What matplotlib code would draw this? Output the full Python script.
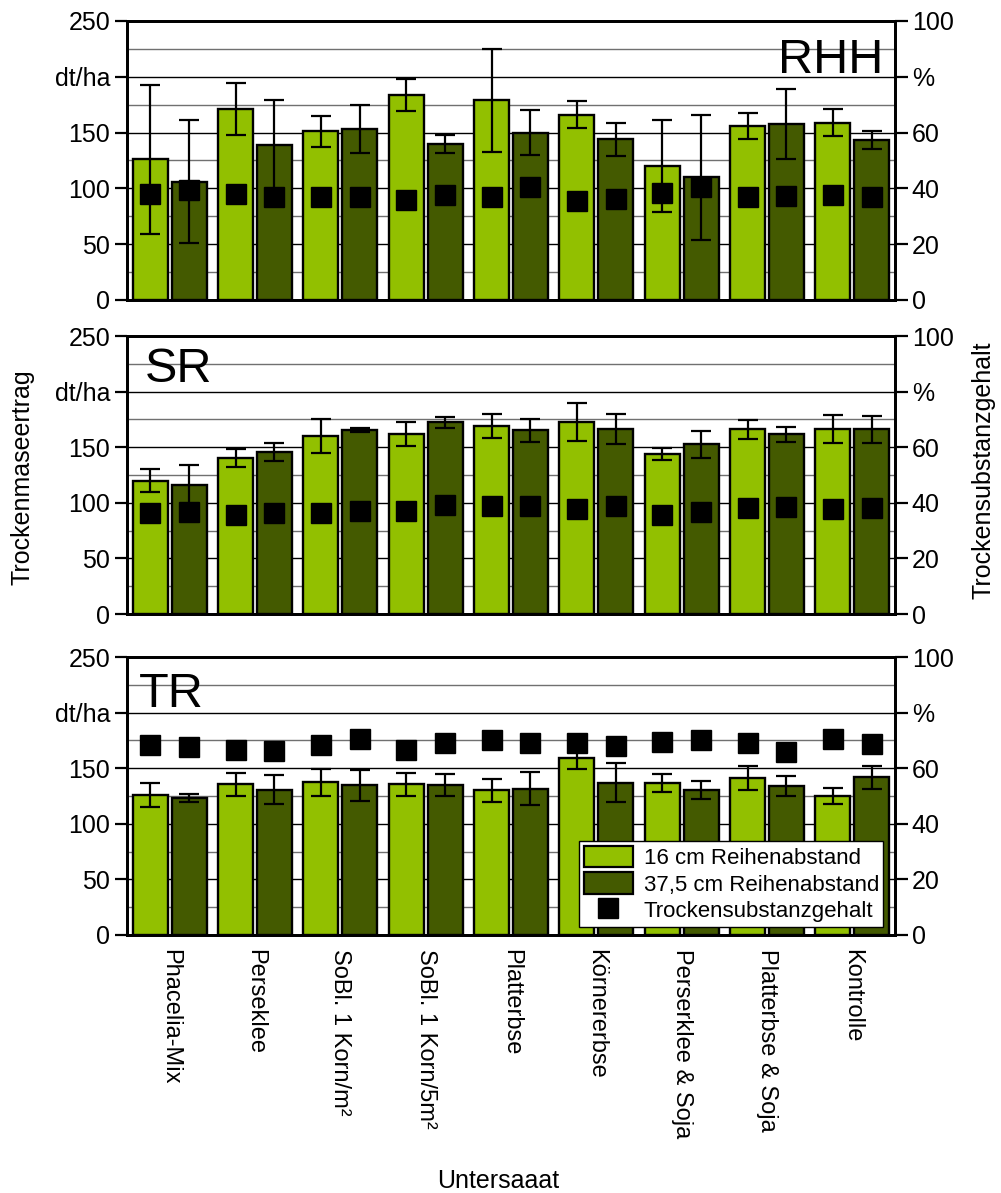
import matplotlib

matplotlib.use("Agg")

import matplotlib.pyplot as plt
import numpy as np
from matplotlib.patches import Patch
from matplotlib.lines import Line2D

plt.rcParams["font.family"] = ["Liberation Sans", "DejaVu Sans"]

categories = [
    "Phacelia-Mix",
    "Perseklee",
    "SoBl. 1 Korn/m²",
    "SoBl. 1 Korn/5m²",
    "Platterbse",
    "Körnererbse",
    "Perserklee & Soja",
    "Platterbse & Soja",
    "Kontrolle",
]

# RHH
rhh_16 = [126, 171, 151, 184, 179, 166, 120, 156, 159]
rhh_16_err = [67, 23.5, 13.5, 14.3, 46, 12, 41, 11.5, 12]
rhh_37 = [106, 139, 153, 140, 150, 144, 110, 158, 143]
rhh_37_err = [55, 40.5, 21.5, 8, 20.5, 15, 56, 31.5, 8]
rhh_ts_16 = [38.1, 37.9, 36.8, 35.8, 36.8, 35.6, 38.5, 36.8, 37.6]
rhh_ts_37 = [39.3, 36.8, 36.8, 37.6, 40.5, 36.2, 40.4, 37.4, 37.0]

# SR
sr_16 = [120, 140, 160, 162, 169, 173, 144, 166, 166.5]
sr_16_err = [10, 8, 15, 11, 11, 17, 5.7, 8.7, 12.4]
sr_37 = [115.6, 145.6, 165.3, 172.5, 165.3, 166.2, 152.7, 161.7, 166]
sr_37_err = [18, 8, 2, 5, 10.5, 13.5, 12, 6.7, 12]
sr_ts_16 = [36.4, 35.5, 36.2, 37.0, 38.9, 37.7, 35.5, 38.0, 37.7]
sr_ts_37 = [36.8, 36.5, 37.1, 39.2, 38.8, 38.8, 36.7, 38.6, 38.0]

# TR
tr_16 = [125.8, 135.4, 137.2, 135.4, 130, 159.3, 136.8, 141.1, 124.9]
tr_16_err = [11, 10.5, 11.9, 10.3, 10, 10, 8, 10.5, 7.2]
tr_37 = [123.4, 130.6, 134.8, 134.8, 131.5, 136.8, 130.3, 133.9, 141.7]
tr_37_err = [3.6, 13, 14, 10, 14.7, 17.5, 8, 9, 10.5]
tr_ts_16 = [68.2, 66.7, 68.2, 66.7, 70.2, 69.1, 69.4, 69.0, 70.6]
tr_ts_37 = [67.5, 66.1, 70.4, 69.0, 68.9, 67.9, 70.3, 66.0, 68.6]

left_ticks = [0, 50, 100, 150, 200, 250]
left_labels = ["0", "50", "100", "150", "dt/ha", "250"]
right_ticks = [0, 20, 40, 60, 80, 100]
right_labels = ["0", "20", "40", "60", "%", "100"]

LIGHT = "#92c000"
DARK = "#445a00"
FS = 18


def draw_panel(ax, v16, e16, v37, e37, ts16, ts37, name, name_pos, show_x):
    x = np.arange(len(categories))
    off = 0.228
    w = 0.41
    ax.set_axisbelow(True)
    ax.bar(x - off, v16, w, color=LIGHT, edgecolor="black", linewidth=1.7, zorder=2)
    ax.bar(x + off, v37, w, color=DARK, edgecolor="black", linewidth=1.7, zorder=2)
    ax.errorbar(x - off, v16, yerr=e16, fmt="none", ecolor="black",
                elinewidth=1.6, capsize=7, capthick=1.6, zorder=3)
    ax.errorbar(x + off, v37, yerr=e37, fmt="none", ecolor="black",
                elinewidth=1.6, capsize=7, capthick=1.6, zorder=3)

    ax.set_xlim(-0.5, len(categories) - 0.5)
    ax.set_ylim(0, 250)
    ax.set_yticks(left_ticks)
    ax.set_yticklabels(left_labels, fontsize=FS)
    ax.set_yticks(np.arange(25, 250, 50), minor=True)
    ax.tick_params(axis="y", which="major", direction="out", length=9, width=1.6, pad=3)
    ax.tick_params(axis="y", which="minor", length=0)
    ax.grid(axis="y", which="major", color="black", linewidth=1.0)
    ax.grid(axis="y", which="minor", color="#707070", linewidth=1.0)
    ax.set_xticks(x)
    if show_x:
        ax.set_xticklabels(categories, rotation=270, fontsize=17, va="top", ha="center")
    else:
        ax.set_xticklabels([])
    ax.tick_params(axis="x", length=0, pad=10)
    for s in ax.spines.values():
        s.set_linewidth(2.0)

    ax2 = ax.twinx()
    ax2.plot(x - off, ts16, "s", color="black", markersize=15, zorder=4)
    ax2.plot(x + off, ts37, "s", color="black", markersize=15, zorder=4)
    ax2.set_ylim(0, 100)
    ax2.set_yticks(right_ticks)
    ax2.set_yticklabels(right_labels, fontsize=FS)
    ax2.tick_params(axis="y", direction="out", length=9, width=1.6, pad=3)
    for s in ax2.spines.values():
        s.set_linewidth(2.0)

    ax.text(name_pos[0], name_pos[1], name, transform=ax.transAxes,
            fontsize=35, ha=name_pos[2], va="top", zorder=5)
    return ax2


fig = plt.figure(figsize=(10.01, 11.93), dpi=100)
left = 127 / 1001
width = 768 / 1001
ax1 = fig.add_axes([left, 1 - 300 / 1193, width, 279 / 1193])
ax2 = fig.add_axes([left, 1 - 614 / 1193, width, 278 / 1193])
ax3 = fig.add_axes([left, 1 - 935 / 1193, width, 278 / 1193])

draw_panel(ax1, rhh_16, rhh_16_err, rhh_37, rhh_37_err, rhh_ts_16, rhh_ts_37,
           "RHH", (0.985, 0.94, "right"), False)
draw_panel(ax2, sr_16, sr_16_err, sr_37, sr_37_err, sr_ts_16, sr_ts_37,
           "SR", (0.023, 0.96, "left"), False)
tw3 = draw_panel(ax3, tr_16, tr_16_err, tr_37, tr_37_err, tr_ts_16, tr_ts_37,
                 "TR", (0.015, 0.945, "left"), True)

handles = [
    Patch(facecolor=LIGHT, edgecolor="black", linewidth=1.6),
    Patch(facecolor=DARK, edgecolor="black", linewidth=1.6),
    Line2D([], [], marker="s", linestyle="none", color="black", markersize=15),
]
labels = ["16 cm Reihenabstand", "37,5 cm Reihenabstand", "Trockensubstanzgehalt"]
leg = tw3.legend(handles, labels, loc="lower right", bbox_to_anchor=(0.985, 0.03),
                 borderaxespad=0, fontsize=16, frameon=True, fancybox=False,
                 edgecolor="black", framealpha=1, labelspacing=0.15,
                 handlelength=2.2, handleheight=1.1, handletextpad=0.5,
                 borderpad=0.2)
leg.get_frame().set_linewidth(1.0)
leg.set_zorder(10)

fig.text(23 / 1001, 1 - 477 / 1193, "Trockenmaseertrag", rotation=90,
         fontsize=FS, ha="center", va="center")
fig.text(984 / 1001, 1 - 470 / 1193, "Trockensubstanzgehalt", rotation=90,
         fontsize=FS, ha="center", va="center")
fig.text(498 / 1001, 1 - 1181 / 1193, "Untersaaat", fontsize=FS,
         ha="center", va="center")

fig.savefig("out.png", dpi=100)
